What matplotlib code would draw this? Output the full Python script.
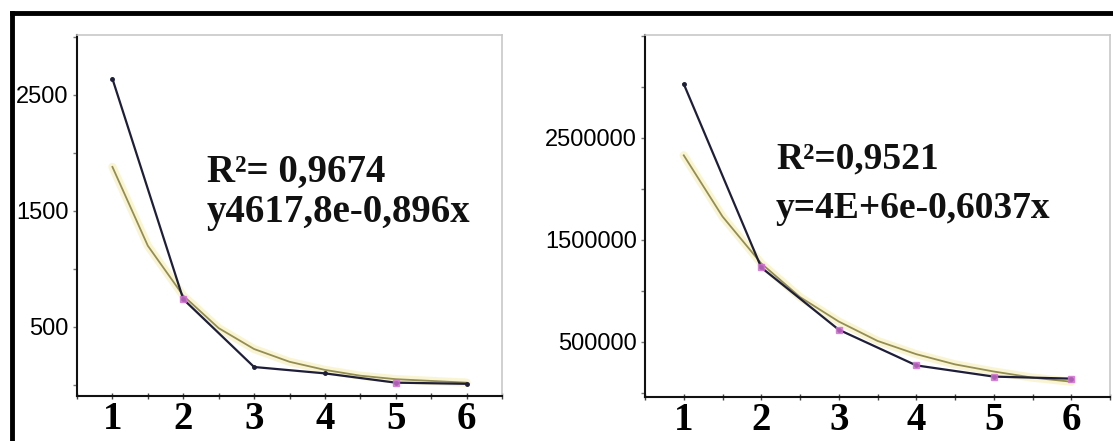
import matplotlib
matplotlib.use("Agg")
import matplotlib.pyplot as plt
from matplotlib.lines import Line2D
from matplotlib.ticker import FixedLocator, MultipleLocator, FuncFormatter

# left chart: measured values and exponential trendline (read at half steps)
x_pts = [1, 2, 3, 4, 5, 6]
left_vals = [2640, 740, 155, 100, 20, 10]
x_fit = [1, 1.5, 2, 2.5, 3, 3.5, 4, 4.5, 5, 5.5, 6]
left_fit = [1880, 1200, 770, 490, 310, 200, 130, 80, 50, 35, 20]
left_pink = [1, 4]
left_text = ["R\u00b2= 0,9674", "y4617,8e-0,896x"]
left_yticks = [500, 1500, 2500]

# right chart
right_vals = [3030000, 1230000, 620000, 270000, 160000, 140000]
right_fit = [2330000, 1730000, 1270000, 940000, 700000, 510000,
             380000, 280000, 210000, 150000, 110000]
right_pink = [1, 2, 3, 4, 5]
right_text = ["R\u00b2=0,9521", "y=4E+6e-0,6037x"]
right_yticks = [500000, 1500000, 2500000]

W, H = 1113, 441
fig = plt.figure(figsize=(W / 100, H / 100), dpi=100)
fig.patch.set_facecolor("white")


def px_axes(left, top, right, bottom):
    return fig.add_axes([left / W, 1 - bottom / H, (right - left) / W, (bottom - top) / H])


def style(ax, ylim, yticks, minor_step, text, tx, ty1, ty2, tsize):
    ax.set_xlim(0.5, 6.5)
    ax.set_ylim(*ylim)
    for s in ["top", "right"]:
        ax.spines[s].set_color("#c8c8c8")
        ax.spines[s].set_linewidth(1.2)
    for s in ["left", "bottom"]:
        ax.spines[s].set_color("#111111")
        ax.spines[s].set_linewidth(1.5)
    ax.xaxis.set_major_locator(FixedLocator(x_pts))
    ax.xaxis.set_minor_locator(MultipleLocator(0.5))
    ax.yaxis.set_major_locator(FixedLocator(yticks))
    ax.yaxis.set_minor_locator(MultipleLocator(minor_step))
    ax.yaxis.set_major_formatter(FuncFormatter(lambda v, p: "%d" % v))
    ax.tick_params(axis="x", which="both", direction="inout", length=5, width=1,
                   color="#444444", pad=1)
    ax.tick_params(axis="y", which="both", direction="out", length=3, width=1,
                   color="#777777", pad=3)
    for lab in ax.get_xticklabels():
        lab.set_fontfamily("Liberation Serif")
        lab.set_fontweight("bold")
        lab.set_fontsize(28)
    for lab in ax.get_yticklabels():
        lab.set_fontfamily("Liberation Sans")
        lab.set_fontsize(17)
    ax.text(tx, ty1, text[0], transform=ax.transAxes, fontfamily="Liberation Serif",
            fontweight="bold", fontsize=tsize, color="#111111", va="baseline")
    ax.text(tx, ty2, text[1], transform=ax.transAxes, fontfamily="Liberation Serif",
            fontweight="bold", fontsize=tsize, color="#111111", va="baseline")


def draw(ax, vals, fit, pink):
    ax.plot(x_fit, fit, color="#f6efb8", lw=6, alpha=0.6, solid_capstyle="round", zorder=2)
    ax.plot(x_fit, fit, color="#948e52", lw=1.3, zorder=3)
    ax.plot(x_pts, vals, color="#1e1e38", lw=1.6, marker="o", ms=2.5, zorder=4)
    ax.plot([x_pts[i] for i in pink], [vals[i] for i in pink], ls="none",
            marker="s", ms=5, color="#d070d0", alpha=0.8, zorder=5)


# left panel
ax1 = px_axes(77, 35, 502, 396)
draw(ax1, left_vals, left_fit, left_pink)
style(ax1, (-95, 3017), left_yticks, 500, left_text,
      (207 - 77) / 425, (396 - 182) / 361, (396 - 222) / 361, 28)

# right panel
ax2 = px_axes(645, 35, 1110, 397)
draw(ax2, right_vals, right_fit, right_pink)
style(ax2, (-40000, 3510000), right_yticks, 500000, right_text,
      (776 - 645) / 465, (397 - 168) / 362, (397 - 218) / 362, 27)

# outer black frame (top and left edges)
fig.add_artist(Line2D([12 / W, 1], [1 - 13 / H, 1 - 13 / H], color="black", lw=3.5))
fig.add_artist(Line2D([12 / W, 12 / W], [0, 1 - 13 / H], color="black", lw=3.5))

fig.savefig("out.png", dpi=100)
